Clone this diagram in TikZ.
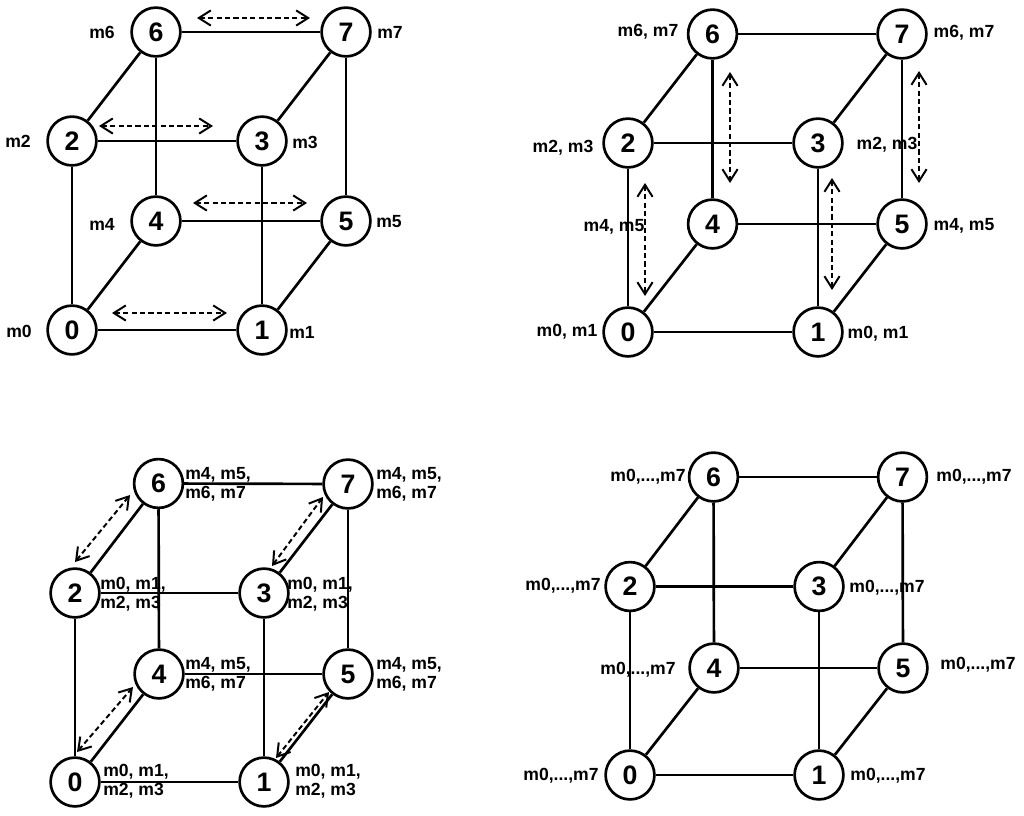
\documentclass[tikz,border=0pt]{standalone}
\usepackage{fontspec}
\setmainfont{Liberation Sans}
\usetikzlibrary{arrows.meta}
\begin{document}
\begin{tikzpicture}[x=0.025cm,y=-0.025cm,
  vert/.style={circle,draw,line width=1.9pt,minimum size=1.22cm,inner sep=0pt,fill=white,font=\fontsize{19}{19}\selectfont\bfseries},
  edge/.style={line width=1.9pt},
  lab/.style={inner sep=0pt,font=\fontsize{12.5}{13.5}\selectfont\bfseries},
  labw/.style={lab,anchor=west,align=left},
  darr/.style={line width=1.4pt,dash pattern=on 1.3mm off 0.8mm,{Straight Barb[length=3mm,width=3.8mm]}-{Straight Barb[length=3mm,width=3.8mm]}}]
\useasboundingbox (0,0) rectangle (1024,815);
% ---------- cube A ----------
\coordinate (A0) at (72,330); \coordinate (A1) at (262,330);
\coordinate (A2) at (72,141); \coordinate (A3) at (262,141);
\coordinate (A4) at (156,221); \coordinate (A5) at (346,221);
\coordinate (A6) at (156,32); \coordinate (A7) at (346,32);
% ---------- cube B ----------
\coordinate (B0) at (628,332); \coordinate (B1) at (818,332);
\coordinate (B2) at (628,143); \coordinate (B3) at (818,143);
\coordinate (B4) at (712.5,224); \coordinate (B5) at (902,224);
\coordinate (B6) at (712.5,34); \coordinate (B7) at (902,34);
% ---------- cube C ----------
\coordinate (C0) at (75,782); \coordinate (C1) at (264,782);
\coordinate (C2) at (75,593); \coordinate (C3) at (264,593);
\coordinate (C4) at (159,674); \coordinate (C5) at (348,674);
\coordinate (C6) at (158.5,483.5); \coordinate (C7) at (348,484);
% ---------- cube D ----------
\coordinate (D0) at (630,775); \coordinate (D1) at (819,775);
\coordinate (D2) at (630,586.5); \coordinate (D3) at (819,586.5);
\coordinate (D4) at (714,668); \coordinate (D5) at (903,668);
\coordinate (D6) at (713.5,477); \coordinate (D7) at (902.5,477);
\foreach \c in {A,B,C,D}{
  \foreach \i in {0,...,7}{ \node[vert] (\c n\i) at (\c\i) {\i}; }
  \foreach \p/\q in {0/1,2/3,4/5,6/7,0/2,1/3,4/6,5/7,0/4,1/5,2/6,3/7}{
    \draw[edge] (\c n\p) -- (\c n\q);
  }
}
% labels A
\node[lab] (la6) at (102,32) {m6};
\node[lab] (la7) at (390,32) {m7};
\node[lab] (la2) at (18,141) {m2};
\node[lab] (la3) at (305,142) {m3};
\node[lab] (la4) at (102,224) {m4};
\node[lab] (la5) at (389,222) {m5};
\node[lab] (la0) at (19,331) {m0};
\node[lab] (la1) at (302,332) {m1};
% arrows A
\draw[darr] ([shift={(41,-14)}]An6.center) -- ([shift={(-36,-14)}]An7.center);
\draw[darr] ([shift={(27,-15)}]An2.center) -- ([shift={(-49,-15)}]An3.center);
\draw[darr] ([shift={(37,-18)}]An4.center) -- ([shift={(-39,-18)}]An5.center);
\draw[darr] ([shift={(40,-17)}]An0.center) -- ([shift={(-35,-17)}]An1.center);
% labels B
\node[lab] (lb6) at (648,32) {m6, m7};
\node[lab] (lb7) at (964,33) {m6, m7};
\node[lab] (lb2) at (563,148) {m2, m3};
\node[lab] (lb3) at (887,145) {m2, m3};
\node[lab] (lb4) at (614,227) {m4, m5};
\node[lab] (lb5) at (964,226) {m4, m5};
\node[lab] (lb0) at (567,332) {m0, m1};
\node[lab] (lb1) at (878,334) {m0, m1};
% arrows B
\draw[darr] ([shift={(17.5,38)}]Bn6.center) -- ([shift={(17.5,-41)}]Bn4.center);
\draw[darr] ([shift={(17,37)}]Bn7.center) -- ([shift={(17,-41)}]Bn5.center);
\draw[darr] ([shift={(17,40)}]Bn2.center) -- ([shift={(17,-36)}]Bn0.center);
\draw[darr] ([shift={(14,35)}]Bn3.center) -- ([shift={(14,-42)}]Bn1.center);
% labels C
\node[labw] (lc6) at (185,484) {m4, m5,\\m6, m7};
\node[labw] (lc7) at (376,484) {m4, m5,\\m6, m7};
\node[labw] (lc2) at (100,594) {m0, m1,\\m2, m3};
\node[labw] (lc3) at (287,594) {m0, m1,\\m2, m3};
\node[labw] (lc4) at (185,674) {m4, m5,\\m6, m7};
\node[labw] (lc5) at (376,674) {m4, m5,\\m6, m7};
\node[labw] (lc0) at (103,781) {m0, m1,\\m2, m3};
\node[labw] (lc1) at (295,781) {m0, m1,\\m2, m3};
% arrows C
\draw[darr] ([shift={(0,-31)}]Cn2.center) -- ([shift={(-28.5,11.5)}]Cn6.center);
\draw[darr] ([shift={(8,-27)}]Cn3.center) -- ([shift={(-25,13)}]Cn7.center);
\draw[darr] ([shift={(2,-30)}]Cn0.center) -- ([shift={(-26,13)}]Cn4.center);
\draw[darr] ([shift={(12,-24)}]Cn1.center) -- ([shift={(-19,18)}]Cn5.center);
% labels D
\node[lab] (ld6) at (648,477) {m0,...,m7};
\node[lab] (ld7) at (974,477) {m0,...,m7};
\node[lab] (ld2) at (563,586) {m0,...,m7};
\node[lab] (ld3) at (887,588) {m0,...,m7};
\node[lab] (ld4) at (638,670) {m0,...,m7};
\node[lab] (ld5) at (978,665) {m0,...,m7};
\node[lab] (ld0) at (561,776) {m0,...,m7};
\node[lab] (ld1) at (888,776) {m0,...,m7};
\end{tikzpicture}
\end{document}
